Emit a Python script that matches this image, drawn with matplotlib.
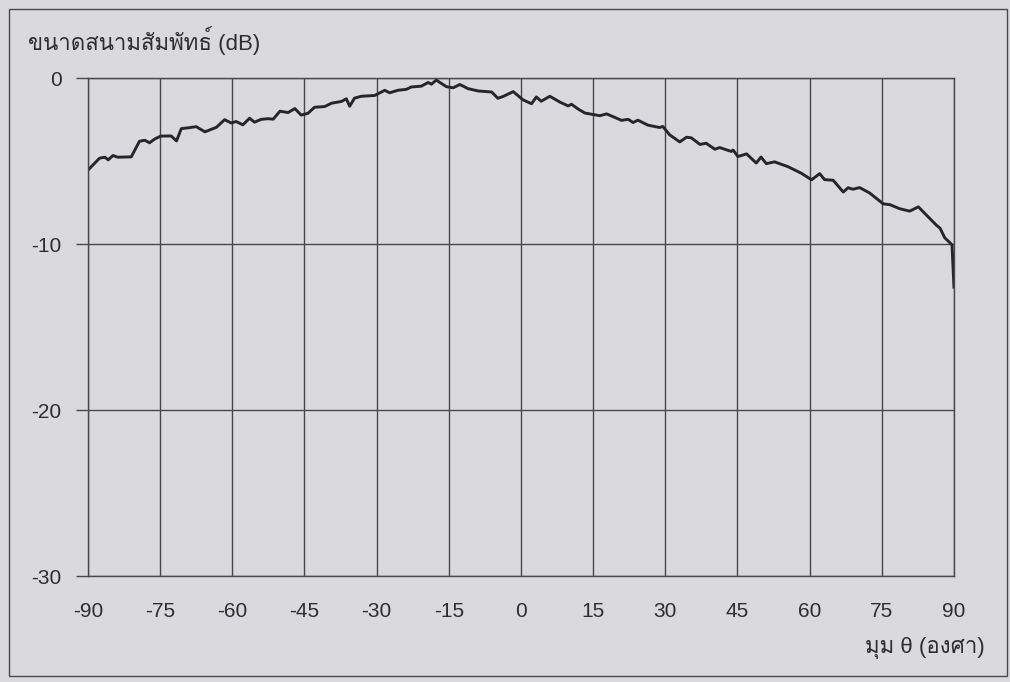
import matplotlib
matplotlib.use("Agg")
import matplotlib.pyplot as plt
from matplotlib import font_manager

# angle (deg) and relative field (dB)
angulo = [-90, -87.6, -86.5, -85.8, -84.8, -83.8, -81.0, -79.3, -78.2, -77.2,
          -76.1, -74.9, -72.7, -71.6, -70.6, -68.9, -67.5, -65.7, -63.3, -61.6,
          -60.2, -59.2, -57.8, -56.4, -55.4, -54.0, -52.6, -51.5, -50.1, -48.4,
          -47.0, -45.7, -44.3, -42.9, -40.8, -39.4, -37.3, -36.3, -35.6, -34.6,
          -33.2, -30.4, -28.3, -27.3, -25.6, -23.8, -22.8, -20.7, -19.3, -18.6,
          -17.6, -16.9, -15.5, -14.1, -12.7, -11.0, -8.9, -6.1, -4.8, -3.7,
          -1.6, 0.4, 2.2, 3.2, 4.2, 6.0, 8.1, 9.8, 10.5, 11.9,
          13.3, 16.4, 17.8, 20.9, 22.3, 23.3, 24.3, 26.4, 28.8, 29.5,
          30.9, 33.0, 34.4, 35.4, 37.2, 38.5, 40.3, 41.3, 43.7, 44.1,
          45.1, 46.9, 48.9, 49.9, 51.0, 52.7, 55.5, 58.3, 60.4, 62.1,
          63.1, 64.9, 67.0, 68.0, 69.0, 70.4, 72.5, 75.3, 76.7, 78.7,
          80.8, 82.6, 84.6, 86.4, 87.1, 88.1, 89.2, 89.6, 90]
campo_db = [-5.55, -4.83, -4.77, -4.93, -4.67, -4.77, -4.75, -3.81, -3.75, -3.90,
            -3.67, -3.50, -3.49, -3.79, -3.05, -2.99, -2.93, -3.24, -2.97, -2.51,
            -2.71, -2.62, -2.82, -2.42, -2.66, -2.49, -2.45, -2.48, -2.00, -2.08,
            -1.84, -2.23, -2.13, -1.76, -1.72, -1.52, -1.41, -1.25, -1.70, -1.21,
            -1.10, -1.05, -0.74, -0.89, -0.74, -0.68, -0.54, -0.49, -0.27, -0.37,
            -0.12, -0.26, -0.52, -0.59, -0.39, -0.64, -0.78, -0.84, -1.22, -1.11,
            -0.82, -1.31, -1.55, -1.14, -1.40, -1.10, -1.45, -1.68, -1.58, -1.87,
            -2.11, -2.27, -2.16, -2.55, -2.49, -2.68, -2.54, -2.84, -2.98, -2.92,
            -3.42, -3.85, -3.57, -3.60, -4.00, -3.93, -4.29, -4.19, -4.42, -4.34,
            -4.73, -4.57, -5.12, -4.76, -5.16, -5.05, -5.34, -5.74, -6.13, -5.76,
            -6.12, -6.16, -6.87, -6.61, -6.70, -6.60, -6.93, -7.58, -7.63, -7.87,
            -8.02, -7.76, -8.35, -8.88, -9.04, -9.63, -9.93, -10.05, -12.6]

xticks = [-90, -75, -60, -45, -30, -15, 0, 15, 30, 45, 60, 75, 90]
yticks = [0, -10, -20, -30]

titulo = "ขนาดสนามสัมพัทธ์ (dB)"
etiqueta_x = "มุม θ (องศา)"

nombres = [f.name for f in font_manager.fontManager.ttflist]
latina = "Liberation Sans Narrow" if "Liberation Sans Narrow" in nombres else "Liberation Sans"
plt.rcParams['font.family'] = [latina, 'Loma', 'DejaVu Sans']
plt.rcParams['axes.unicode_minus'] = False

fondo = "#dad9dd"
tinta = "#2e2e2e"
fig = plt.figure(figsize=(10.1, 6.82), dpi=100, facecolor=fondo)
ax = fig.add_axes([0.0871, 0.1554, 0.8574, 0.7302])
ax.set_facecolor(fondo)

ax.plot(angulo, campo_db, color="#262626", linewidth=2.1)

ax.set_xlim(-90, 90)
ax.set_ylim(-30, 0)
ax.set_xticks(xticks)
ax.set_yticks(yticks)
ax.grid(True, color="#484848", linewidth=1.0)
for s in ax.spines.values():
    s.set_color("#484848")
    s.set_linewidth(1.0)
ax.tick_params(axis="y", length=9, width=1.0, color="#484848", pad=10,
               labelsize=15, labelcolor=tinta)
ax.tick_params(axis="x", length=0, pad=19, labelsize=15, labelcolor=tinta)

fig.text(0.028, 0.94, titulo, fontsize=16, color=tinta, va="center", ha="left")
fig.text(0.975, 0.05, etiqueta_x, fontsize=16, color=tinta, va="center", ha="right")

# marco exterior del recuadro escaneado
marco = plt.Rectangle((0.0094, 0.0088), 0.9876, 0.978, transform=fig.transFigure,
                      fill=False, edgecolor="#4a4a4a", linewidth=1.0)
fig.patches.append(marco)

fig.savefig("out.png", dpi=100, facecolor=fondo)
